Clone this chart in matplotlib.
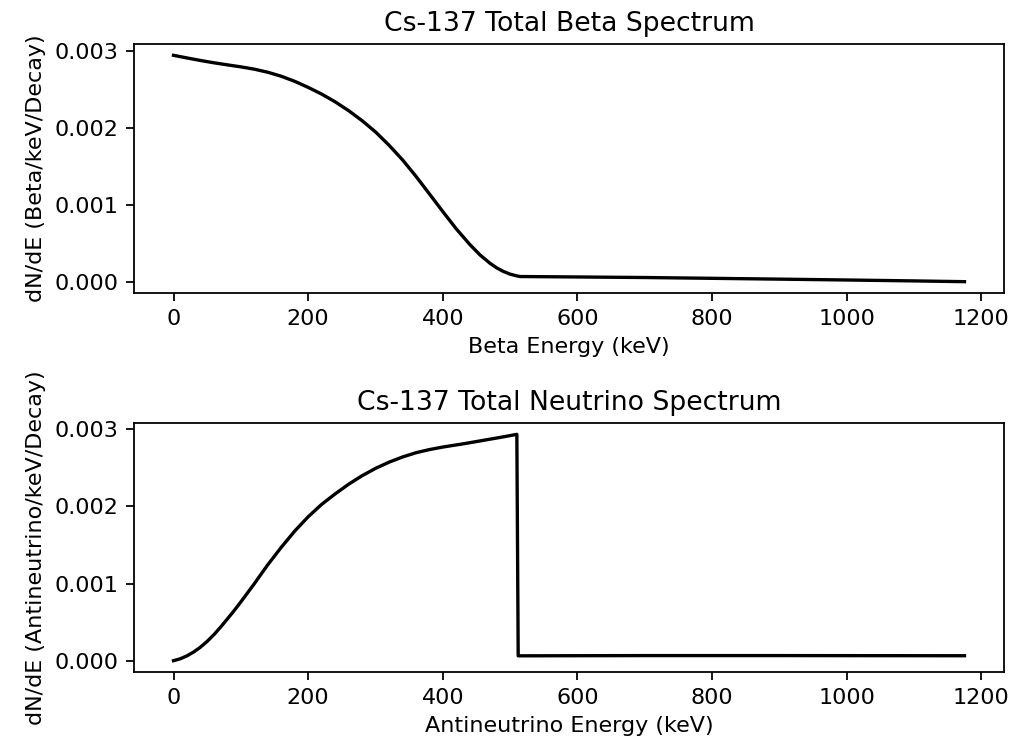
import matplotlib
matplotlib.use("Agg")
import matplotlib.pyplot as plt

# Cs-137 total beta spectrum (keV, beta/keV/decay)
beta_energy = [0, 20, 40, 60, 80, 100, 120, 140, 160, 180, 200, 220, 240,
               260, 280, 300, 320, 340, 360, 380, 400, 420, 440, 455, 470,
               480, 490, 500, 510, 515, 574, 700, 796, 900, 999, 1100, 1175]
beta_dnde = [0.002944, 0.002910, 0.002877, 0.002847, 0.002820, 0.002794,
             0.002764, 0.002724, 0.002672, 0.002606, 0.002527, 0.002440,
             0.002340, 0.002225, 0.002095, 0.001948, 0.001776, 0.001586,
             0.001372, 0.001143, 0.000912, 0.000687, 0.000485, 0.000350,
             0.000240, 0.000180, 0.000133, 0.000098, 0.000075, 0.000067,
             0.000063, 0.000054, 0.000044, 0.000033, 0.000022, 0.000010,
             0.000000]

# Cs-137 total antineutrino spectrum (keV, antineutrino/keV/decay)
nu_energy = [0, 10, 20, 30, 40, 50, 60, 70, 80, 90, 100, 120, 140, 160, 180,
             200, 220, 240, 260, 280, 300, 320, 340, 360, 380, 400, 430, 460,
             490, 510, 512, 700, 900, 1175]
nu_dnde = [0.000005, 0.000030, 0.000068, 0.000118, 0.000180, 0.000255,
           0.000342, 0.000440, 0.000545, 0.000652, 0.000765, 0.001000,
           0.001245, 0.001470, 0.001680, 0.001865, 0.002025, 0.002160,
           0.002285, 0.002395, 0.002490, 0.002570, 0.002637, 0.002692,
           0.002733, 0.002766, 0.002807, 0.002852, 0.002898, 0.002930,
           0.000068, 0.000071, 0.000071, 0.000069]

fig = plt.figure(figsize=(1019 / 160, 741 / 160), dpi=160)
ax1 = fig.add_axes([0.1315, 0.6046, 0.8538, 0.3360])
ax2 = fig.add_axes([0.1315, 0.0931, 0.8538, 0.3360])

ax1.plot(beta_energy, beta_dnde, color="black")
ax1.set_title("Cs-137 Total Beta Spectrum")
ax1.set_xlabel("Beta Energy (keV)")
ax1.set_ylabel("dN/dE (Beta/keV/Decay)")

ax2.plot(nu_energy, nu_dnde, color="black")
ax2.set_title("Cs-137 Total Neutrino Spectrum")
ax2.set_xlabel("Antineutrino Energy (keV)")
ax2.set_ylabel("dN/dE (Antineutrino/keV/Decay)")

fig.savefig("out.png", dpi=160)
